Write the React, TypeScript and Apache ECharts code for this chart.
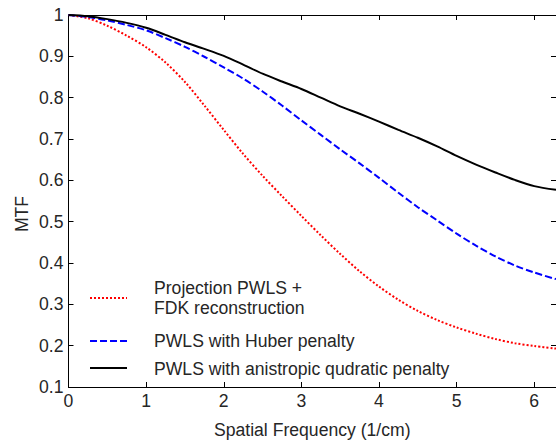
import React, { useEffect, useRef } from "react";
import * as echarts from "echarts";

const xValues = [0, 0.25, 0.5, 0.75, 1, 1.25, 1.5, 1.75, 2, 2.25, 2.5, 2.75, 3, 3.25, 3.5, 3.75, 4, 4.25, 4.5, 4.75, 5, 5.25, 5.5, 5.75, 6, 6.28];
const projectionFdk = [1.0, 0.992, 0.974, 0.95, 0.922, 0.885, 0.838, 0.781, 0.722, 0.664, 0.611, 0.562, 0.514, 0.467, 0.422, 0.38, 0.343, 0.311, 0.284, 0.262, 0.244, 0.229, 0.216, 0.206, 0.199, 0.193];
const pwlsHuber = [1.0, 0.995, 0.987, 0.976, 0.963, 0.944, 0.923, 0.899, 0.873, 0.846, 0.815, 0.781, 0.745, 0.71, 0.675, 0.641, 0.606, 0.57, 0.535, 0.503, 0.471, 0.442, 0.416, 0.394, 0.377, 0.361];
const pwlsAniso = [1.0, 0.997, 0.99, 0.981, 0.969, 0.952, 0.934, 0.918, 0.901, 0.88, 0.858, 0.839, 0.821, 0.8, 0.779, 0.761, 0.742, 0.722, 0.703, 0.682, 0.659, 0.638, 0.619, 0.601, 0.586, 0.577];

const seriesNames = ["Projection PWLS +\nFDK reconstruction", "PWLS with Huber penalty", "PWLS with anistropic qudratic penalty"];
const xTickLabels = ["0", "1", "2", "3", "4", "5", "6"];
const yTickLabels = ["0.1", "0.2", "0.3", "0.4", "0.5", "0.6", "0.7", "0.8", "0.9", "1"];

const FONT = "Liberation Sans, Arial, sans-serif";
const TEXT = "#262626";
const FS = 17.6;

export default function App() {
  const ref = useRef<HTMLDivElement>(null);
  useEffect(() => {
    if (!ref.current) return;
    const chart = echarts.init(ref.current, null, { renderer: "svg" });
    const pair = (ys: number[]) => xValues.map((x, i) => [x, ys[i]]);
    const axisLine = { show: true, onZero: false, lineStyle: { color: "#000", width: 1 } };
    const tick = { show: true, inside: true, length: 5, lineStyle: { color: "#000", width: 1 } };
    const legendX1 = 90;
    const legendX2 = 127;
    const textX = 154;
    const font = `${FS}px ${FONT}`;
    chart.setOption({
      animation: false,
      backgroundColor: "#fff",
      grid: { left: 68.5, top: 15, right: -2, bottom: 44.7, containLabel: false },
      xAxis: [
        {
          type: "value",
          min: 0,
          max: 6.28,
          interval: 1,
          position: "bottom",
          name: "Spatial Frequency (1/cm)",
          nameLocation: "middle",
          nameGap: 34,
          nameTextStyle: { fontFamily: FONT, fontSize: FS, color: TEXT },
          axisLine,
          axisTick: tick,
          axisLabel: {
            fontFamily: FONT,
            fontSize: FS,
            color: TEXT,
            margin: 5,
            showMaxLabel: false,
            formatter: (v: number) => xTickLabels[Math.round(v)] ?? "",
          },
          splitLine: { show: false },
        },
        {
          type: "value",
          min: 0,
          max: 6.28,
          interval: 1,
          position: "top",
          axisLine,
          axisTick: tick,
          axisLabel: { show: false },
          splitLine: { show: false },
        },
      ],
      yAxis: [
        {
          type: "value",
          min: 0.1,
          max: 1,
          interval: 0.1,
          position: "left",
          axisLine,
          axisTick: tick,
          axisLabel: {
            fontFamily: FONT,
            fontSize: FS,
            color: TEXT,
            margin: 5,
            formatter: (v: number) => yTickLabels[Math.round(v * 10) - 1] ?? "",
          },
          splitLine: { show: false },
        },
        {
          type: "value",
          min: 0.1,
          max: 1,
          interval: 0.1,
          position: "right",
          axisLine,
          axisTick: tick,
          axisLabel: { show: false },
          splitLine: { show: false },
        },
      ],
      series: [
        {
          name: seriesNames[0],
          type: "line",
          data: pair(projectionFdk),
          showSymbol: false,
          smooth: 0.3,
          lineStyle: { color: "#ff0000", width: 2, type: [2, 2] },
        },
        {
          name: seriesNames[1],
          type: "line",
          data: pair(pwlsHuber),
          showSymbol: false,
          smooth: 0.3,
          lineStyle: { color: "#0000ff", width: 2, type: [7, 3] },
        },
        {
          name: seriesNames[2],
          type: "line",
          data: pair(pwlsAniso),
          showSymbol: false,
          smooth: 0.3,
          lineStyle: { color: "#000000", width: 2 },
        },
      ],
      graphic: [
        { type: "text", x: 22, y: 214, rotation: Math.PI / 2, style: { text: "MTF", font, fill: TEXT, align: "center", verticalAlign: "middle" } },
        { type: "line", shape: { x1: legendX1, y1: 298, x2: legendX2, y2: 298 }, style: { stroke: "#ff0000", lineWidth: 2, lineDash: [2, 2] } },
        { type: "text", x: textX, y: 288, style: { text: "Projection PWLS +", font, fill: TEXT, verticalAlign: "middle" } },
        { type: "text", x: textX, y: 308, style: { text: "FDK reconstruction", font, fill: TEXT, verticalAlign: "middle" } },
        { type: "line", shape: { x1: legendX1, y1: 341, x2: legendX2, y2: 341 }, style: { stroke: "#0000ff", lineWidth: 2, lineDash: [7, 3] } },
        { type: "text", x: textX, y: 341, style: { text: seriesNames[1], font, fill: TEXT, verticalAlign: "middle" } },
        { type: "line", shape: { x1: legendX1, y1: 368, x2: legendX2, y2: 368 }, style: { stroke: "#000000", lineWidth: 2 } },
        { type: "text", x: textX, y: 369, style: { text: seriesNames[2], font, fill: TEXT, verticalAlign: "middle" } },
      ],
    });
    return () => chart.dispose();
  }, []);
  return <div ref={ref} style={{ position: "fixed", left: 0, top: 0, width: 556, height: 444 }} />;
}
